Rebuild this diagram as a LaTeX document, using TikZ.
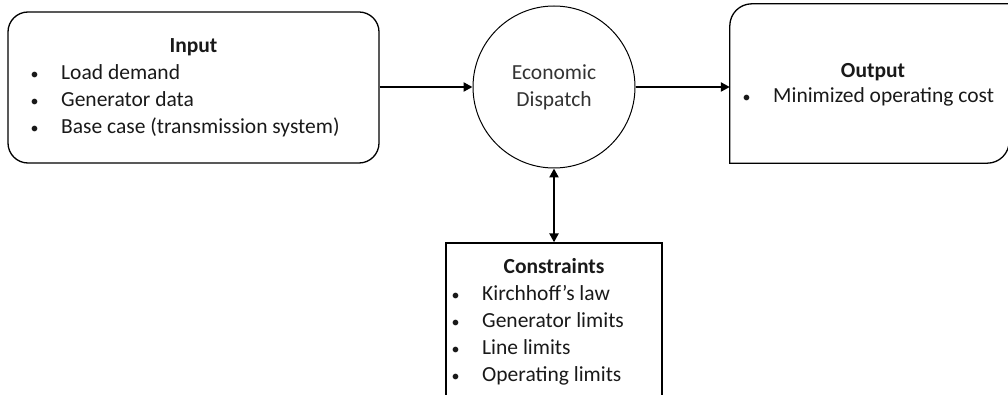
\documentclass[tikz,border=0pt]{standalone}
\usepackage{fontspec}
\setmainfont{Carlito}
\usetikzlibrary{arrows.meta}

\tikzset{
  boxline/.style={draw, line width=1.3pt},
  flow/.style={line width=2.3pt, -{Triangle[length=9pt,width=9pt]}},
  twoway/.style={line width=2.3pt, {Triangle[length=9pt,width=9pt]}-{Triangle[length=9pt,width=9pt]}},
  head/.style={anchor=base, inner sep=0pt, font=\fontsize{21.5}{27}\selectfont\bfseries},
  item/.style={anchor=base west, inner sep=0pt},
}
\newcommand{\bul}[1]{\llap{\makebox[30.5pt][l]{\fontsize{16}{16}\selectfont\textbullet}}#1}

\begin{document}
\begin{tikzpicture}[x=1pt,y=-1pt,font=\fontsize{21.5}{27}\selectfont,text=black!90,every text node part/.style={align=center}]
  \useasboundingbox (0,0) rectangle (1008,395);

    % --------------------------------------------------------- %
    % ------------- central node (economic dispatch)
    % --------------------------------------------------------- %
    \node[circle, draw, line width=1pt, minimum size=162pt, inner sep=0pt, text=black!80] (ed) at (554,87) {Economic\\Dispatch};

    % --------------------------------------------------------- %
    % ------------ Input
    % --------------------------------------------------------- %
    \node[boxline, rounded corners=20pt, minimum width=371pt, minimum height=151pt] (input) at (193.5,87.5) {};
    \node[head] (inputtitle) at (193.5,53) {Input};
    \foreach \txt [count=\i] in {Load demand, Generator data, Base case (transmission system)}
      \node[item] (input\i) at (61,{53+27*\i}) {\bul{\txt}};
    \draw [flow] (ed.west -| input.east) -- (ed.west);

    % --------------------------------------------------------- %
    % ------------ Output
    % --------------------------------------------------------- %
    \node[minimum width=279pt, minimum height=159pt, inner sep=0pt] (output) at (869.5,83.5) {};
    \draw [boxline, line cap=rect, rounded corners=22pt] (output.south west) -- (output.north west) -- (output.north east);
    \draw [boxline, line cap=rect, rounded corners=22pt] (output.north east) -- (output.south east) -- (output.south west);
    \node[head] (outputtitle) at (873,78) {Output};
    \node[item] (output1) at (773,103) {\bul{Minimized operating cost}};
    \draw [flow] (ed.east) -- (ed.east -| output.west);

    % --------------------------------------------------------- %
    % ------------ Constraints
    % --------------------------------------------------------- %
    \node[boxline, minimum width=216pt, minimum height=180pt] (constr) at (554,333) {};
    \node[head] (constrtitle) at (554,273) {Constraints};
    \foreach \txt [count=\i] in {Kirchhoff’s law, Generator limits, Line limits, Operating limits}
      \node[item] (constr\i) at (482,{273+27*\i}) {\bul{\txt}};
    \draw [twoway] (ed.south) -- (constr.north);

  \end{tikzpicture}
\end{document}
